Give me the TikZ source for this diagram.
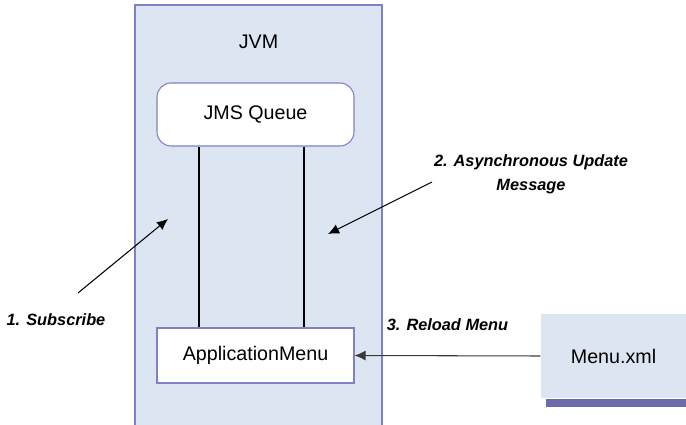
\documentclass[tikz,border=0pt]{standalone}
\usepackage{fontspec}
\setmainfont{Liberation Sans}
\usepackage{xcolor}
\usepackage{tikz}
\usetikzlibrary{arrows.meta, positioning, calc}
\definecolor{Ink}{HTML}{000000}
\definecolor{Wire}{HTML}{3A3A3A}
\definecolor{Frame}{HTML}{8080C4}
\definecolor{SoftBlue}{HTML}{DCE6F2}
\definecolor{Shadow}{HTML}{6B6BAA}

\begin{document}
\begin{tikzpicture}[
  x=0.02cm, y=-0.02cm,
  font=\fontsize{11.2}{13.4}\selectfont,
  box/.style={draw=Frame, line width=0.6pt, fill=white, inner sep=0pt},
  area/.style={box, fill=SoftBlue},
  lbl/.style={font=\fontsize{9.3}{13.6}\selectfont\bfseries\itshape, align=center, inner sep=0pt},
  arrow/.style={-{Latex[length=2.2mm, width=2mm]}, line width=0.6pt, draw=Ink}
]
\clip (0,0) rectangle (686,425);
\node[area, minimum width=247*0.02cm, minimum height=435*0.02cm] (jvm) at (258.5,222.5) {};
\node (jvmtitle) at (258.5,42) {JVM};
\node[box, rounded corners=8pt, minimum width=197*0.02cm, minimum height=63*0.02cm] (queue) at (255.5,114.5) {JMS Queue};
\node[box, minimum width=197*0.02cm, minimum height=55*0.02cm] (appmenu) at (255.5,355.5) {ApplicationMenu};
\node[area, draw=none, minimum width=145*0.02cm, minimum height=84*0.02cm] (menuxml) at (613.5,356) {Menu.xml};
\fill[Shadow] ($(menuxml.south west)+(6,0)$) rectangle ($(menuxml.south east)+(0,8)$);

% queue <-> application menu
\draw[line width=0.6pt] ($(queue.south)+(-56.5,0)$) -- ($(appmenu.north)+(-56.5,0)$);
\draw[line width=0.6pt] ($(queue.south)+(48.5,0)$) -- ($(appmenu.north)+(48.5,0)$);

\coordinate (subfrom) at (78,293);
\coordinate (subto) at (168,219);
\coordinate (asyncfrom) at (432,182);
\coordinate (asyncto) at (328,234);
\draw[arrow] (subfrom) -- (subto);
\draw[arrow] (asyncfrom) -- (asyncto);
\node[lbl] (subtxt) at (56,320) {1. Subscribe};
\node[lbl] (asynctxt) at (531,174) {2. Asynchronous Update\\Message};

\draw[arrow, draw=Wire] (menuxml.west) -- node[lbl, above=14pt] (reloadtxt) {3. Reload Menu} (appmenu.east);
\end{tikzpicture}
\end{document}
